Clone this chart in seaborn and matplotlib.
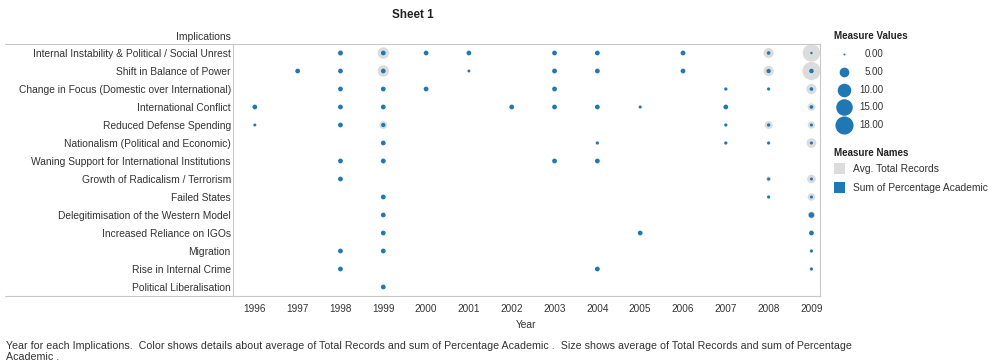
import matplotlib
matplotlib.use("Agg")
import matplotlib.pyplot as plt
from matplotlib import font_manager
from matplotlib.patches import Rectangle
import pandas as pd
import seaborn as sns

# ---- data -------------------------------------------------------------
implications = [
    "Internal Instability & Political / Social Unrest",
    "Shift in Balance of Power",
    "Change in Focus (Domestic over International)",
    "International Conflict",
    "Reduced Defense Spending",
    "Nationalism (Political and Economic)",
    "Waning Support for International Institutions",
    "Growth of Radicalism / Terrorism",
    "Failed States",
    "Delegitimisation of the Western Model",
    "Increased Reliance on IGOs",
    "Migration",
    "Rise in Internal Crime",
    "Political Liberalisation",
]

year_ticks = list(range(1996, 2010))

# years with records, one list per implication
point_years = [
    [1998, 1999, 2000, 2001, 2003, 2004, 2006, 2008, 2009],
    [1997, 1998, 1999, 2001, 2003, 2004, 2006, 2008, 2009],
    [1998, 1999, 2000, 2003, 2007, 2008, 2009],
    [1996, 1998, 1999, 2002, 2003, 2004, 2005, 2007, 2009],
    [1996, 1998, 1999, 2007, 2008, 2009],
    [1999, 2004, 2007, 2008, 2009],
    [1998, 1999, 2003, 2004],
    [1998, 2008, 2009],
    [1999, 2008, 2009],
    [1999, 2009],
    [1999, 2005, 2009],
    [1998, 1999, 2009],
    [1998, 2004, 2009],
    [1999],
]

# Avg. Total Records
records_avg = [
    [1.8, 7.0, 1.0, 1.0, 1.0, 1.0, 1.0, 5.5, 16.5],
    [1.0, 1.0, 7.0, 0.4, 1.0, 1.0, 1.0, 5.5, 18.0],
    [1.0, 1.0, 1.0, 1.0, 0.6, 0.5, 5.5],
    [1.0, 1.0, 1.0, 1.0, 1.0, 1.0, 0.5, 1.0, 3.0],
    [0.5, 1.0, 3.3, 0.5, 3.3, 2.8],
    [1.0, 0.5, 0.5, 0.5, 5.0],
    [1.0, 1.4, 1.0, 1.0],
    [1.0, 1.2, 4.0],
    [1.0, 0.5, 3.0],
    [1.0, 2.5],
    [1.0, 1.0, 1.2],
    [1.0, 1.0, 0.5],
    [1.0, 1.0, 0.5],
    [1.0],
]

# Sum of Percentage Academic
academic_sum = [
    [1.0, 1.0, 1.0, 1.0, 1.0, 1.0, 1.0, 0.5, 0.1],
    [1.0, 1.0, 1.0, 0.2, 1.0, 1.0, 1.0, 0.8, 0.9],
    [1.0, 1.0, 1.0, 1.0, 0.3, 0.3, 0.5],
    [1.0, 1.0, 1.0, 1.0, 1.0, 1.0, 0.25, 1.0, 0.5],
    [0.2, 1.0, 0.8, 0.3, 0.4, 0.3],
    [1.0, 0.3, 0.3, 0.3, 0.3],
    [1.0, 1.0, 1.0, 1.0],
    [1.0, 0.3, 0.3],
    [1.0, 0.3, 0.3],
    [1.0, 1.5],
    [1.0, 1.0, 1.0],
    [1.0, 1.0, 0.3],
    [1.0, 1.0, 0.3],
    [1.0],
]

measure_names = ["Avg. Total Records", "Sum of Percentage Academic"]
measure_colors = ["#dcdcdc", "#1f77b4"]
size_legend_values = [0.0, 5.0, 10.0, 15.0, 18.0]

# ---- long-form table --------------------------------------------------
records = []
for measure, values in zip(measure_names, [records_avg, academic_sum]):
    for row, (yrs, vals) in enumerate(zip(point_years, values)):
        for yr, v in zip(yrs, vals):
            records.append((row, yr, measure, v))
df = pd.DataFrame(records, columns=["Row", "Year", "Measure Names", "Measure Values"])

# ---- style ------------------------------------------------------------
sns.set_style("white")
plt.rcParams["font.family"] = ["Liberation Sans", "DejaVu Sans"]
installed = {f.name for f in font_manager.fontManager.ttflist}
narrow = "Liberation Sans Narrow" if "Liberation Sans Narrow" in installed else "Liberation Sans"

TEXT = "#333333"
LINE = "#c8c8c8"
SIZE_MIN, SIZE_MAX, SIZE_TOP = 2.07, 170.0, 18.0

W, H = 995, 364
fig = plt.figure(figsize=(W / 100, H / 100), dpi=100)
ax = fig.add_axes([233 / W, 1 - 296 / H, (820 - 233) / W, 252 / H])

sns.scatterplot(
    data=df, x="Year", y="Row",
    hue="Measure Names", hue_order=measure_names,
    palette=dict(zip(measure_names, measure_colors)),
    size="Measure Values", sizes=(SIZE_MIN, SIZE_MAX), size_norm=(0, SIZE_TOP),
    linewidth=0, legend=False, ax=ax,
)

ax.set_xlim(1995.49, 2009.2)
ax.set_ylim(len(implications) - 0.5, -0.5)
ax.set_xticks(year_ticks)
ax.set_xticklabels([str(y) for y in year_ticks], fontfamily=narrow)
ax.set_yticks(range(len(implications)))
ax.set_yticklabels(implications)
ax.tick_params(axis="x", length=3.6, width=0.7, color=LINE, pad=2.5,
               labelsize=7.2, labelcolor=TEXT)
ax.tick_params(axis="y", length=0, pad=1.6, labelsize=7.4, labelcolor=TEXT)
ax.set_xlabel("Year", fontsize=7.4, color=TEXT, labelpad=4, fontfamily=narrow)
ax.set_ylabel("")
for sp in ax.spines.values():
    sp.set_color(LINE)
    sp.set_linewidth(0.8)

# ---- header, legend and footer in pixel coordinates ------------------
ov = fig.add_axes([0, 0, 1, 1])
ov.set_xlim(0, W)
ov.set_ylim(H, 0)
ov.axis("off")
ov.patch.set_alpha(0)

ov.plot([5, 233], [44, 44], color=LINE, lw=0.8)
ov.plot([5, 233], [296, 296], color=LINE, lw=0.8)

ov.text(413, 15, "Sheet 1", ha="center", va="center", fontsize=8.4,
        fontweight="bold", color="#222222")
ov.text(231, 37, "Implications", ha="right", va="center", fontsize=7.5, color=TEXT)

ov.text(834, 36, "Measure Values", ha="left", va="center", fontsize=7,
        fontweight="bold", color="#222222")
leg_y = [54, 72, 90, 107, 125]
for v, y in zip(size_legend_values, leg_y):
    s = SIZE_MIN + (SIZE_MAX - SIZE_MIN) * v / SIZE_TOP
    ov.scatter([844], [y], s=s, color=measure_colors[1], linewidths=0)
    ov.text(883, y, f"{v:.2f}", ha="right", va="center", fontsize=7, color=TEXT)

ov.text(834, 153, "Measure Names", ha="left", va="center", fontsize=7,
        fontweight="bold", color="#222222")
for name, color, y in zip(measure_names, measure_colors, [169, 188]):
    ov.add_patch(Rectangle((834, y - 6), 11, 11, color=color, lw=0))
    ov.text(853, y, name, ha="left", va="center", fontsize=7.4, color=TEXT)

ov.text(6, 346,
        "Year for each Implications.  Color shows details about average of Total Records "
        "and sum of Percentage Academic .  Size shows average of Total Records and sum of "
        "Percentage", ha="left", va="center", fontsize=7.65, color=TEXT)
ov.text(6, 357, "Academic .", ha="left", va="center", fontsize=7.65, color=TEXT)

fig.savefig("out.png", dpi=100)
